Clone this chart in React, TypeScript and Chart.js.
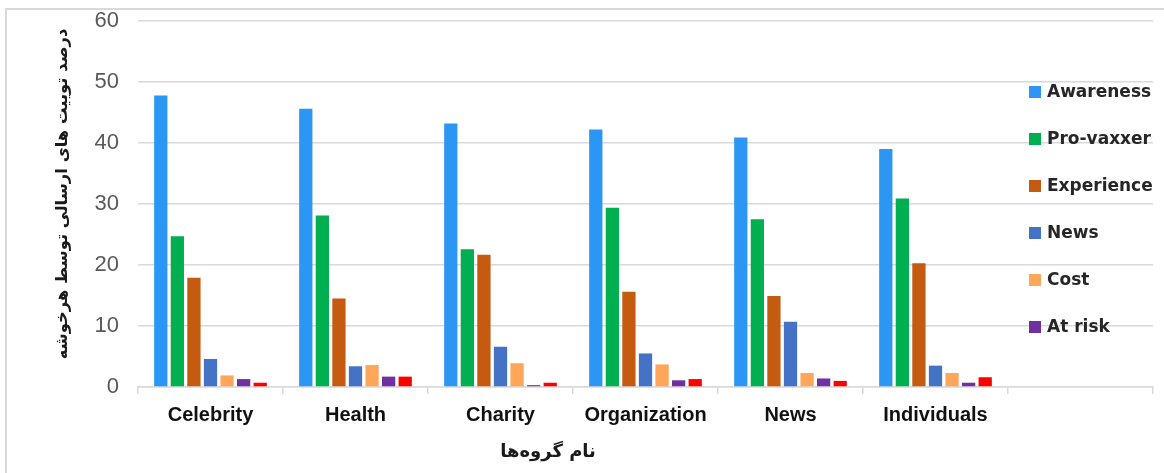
import React, { useEffect, useRef } from "react";
import { Chart, registerables } from "chart.js";

Chart.register(...registerables);

const categories = ["Celebrity", "Health", "Charity", "Organization", "News", "Individuals", ""];

const awareness = [47.8, 45.6, 43.2, 42.2, 40.9, 39.0, null];
const proVaxxer = [24.7, 28.1, 22.6, 29.4, 27.5, 30.9, null];
const experience = [17.9, 14.5, 21.7, 15.6, 14.9, 20.3, null];
const news = [4.6, 3.4, 6.6, 5.5, 10.7, 3.5, null];
const cost = [1.9, 3.6, 3.9, 3.7, 2.3, 2.3, null];
const atRisk = [1.3, 1.7, 0.3, 1.1, 1.4, 0.7, null];
const other = [0.7, 1.7, 0.7, 1.3, 1.0, 1.6, null];

const seriesNames = ["Awareness", "Pro-vaxxer", "Experience", "News", "Cost", "At risk", ""];
const seriesColors = ["#2B96F3", "#00B050", "#C55A11", "#4472C4", "#FFA65B", "#7030A0", "#FF0000"];
const seriesValues = [awareness, proVaxxer, experience, news, cost, atRisk, other];

const yTicks = [0, 10, 20, 30, 40, 50, 60];
const yTitle = "درصد توییت های ارسالی توسط هرخوشه";
const xTitle = "نام گروه‌ها";

const overlayPlugin = {
  id: "overlay",
  afterDraw(chart: any) {
    const ctx = chart.ctx;
    ctx.save();
    // legend
    ctx.textBaseline = "middle";
    ctx.textAlign = "left";
    ctx.font = "bold 17px 'DejaVu Sans', sans-serif";
    let idx = 0;
    seriesNames.forEach((name, i) => {
      if (!name) return;
      const cy = 92 + idx * 47;
      ctx.fillStyle = seriesColors[i];
      ctx.fillRect(1029, cy - 6, 12, 12);
      ctx.fillStyle = "#262626";
      ctx.fillText(name, 1047, cy + 1);
      idx++;
    });
    // y title
    ctx.save();
    ctx.translate(63, 194);
    ctx.rotate(-Math.PI / 2);
    ctx.textAlign = "center";
    ctx.textBaseline = "middle";
    ctx.direction = "rtl";
    ctx.font = "bold 19px 'DejaVu Sans', sans-serif";
    const w = ctx.measureText(yTitle).width;
    const fs = Math.min(19, (19 * 330) / w);
    ctx.font = `bold ${fs.toFixed(1)}px 'DejaVu Sans', sans-serif`;
    ctx.fillStyle = "#1a1a1a";
    ctx.fillText(yTitle, 0, 0);
    ctx.restore();
    // x title
    ctx.textAlign = "center";
    ctx.textBaseline = "middle";
    ctx.direction = "rtl";
    ctx.font = "bold 18px 'DejaVu Sans', sans-serif";
    ctx.fillStyle = "#1a1a1a";
    const xs = chart.scales.x;
    const xc = (xs.getPixelForValue(0) + xs.getPixelForValue(5)) / 2 - 25;
    ctx.fillText(xTitle, xc, 452);
    ctx.restore();
  },
};

export default function App() {
  const ref = useRef<HTMLCanvasElement | null>(null);
  useEffect(() => {
    if (!ref.current) return;
    const chart = new Chart(ref.current, {
      type: "bar",
      data: {
        labels: categories,
        datasets: seriesValues.map((vals, i) => ({
          label: seriesNames[i],
          data: vals as any,
          backgroundColor: seriesColors[i],
          borderWidth: 0,
          categoryPercentage: 0.8,
          barPercentage: 0.8,
        })),
      },
      options: {
        animation: false,
        responsive: false,
        devicePixelRatio: 1,
        layout: { padding: { top: 0, right: 11, left: 0, bottom: 0 } },
        plugins: {
          legend: { display: false },
          tooltip: { enabled: false },
          title: { display: false },
        },
        scales: {
          x: {
            afterFit(scale: any) {
              scale.height = 86;
            },
            grid: {
              offset: true,
              drawOnChartArea: false,
              drawTicks: true,
              tickLength: 7,
              color: "#d9d9d9",
              lineWidth: 1.5,
            },
            border: { display: true, color: "#d9d9d9", width: 1.5 },
            ticks: {
              padding: 9,
              color: "#111111",
              font: { family: "'Liberation Sans', Arial, sans-serif", size: 20, weight: "bold" },
              maxRotation: 0,
              autoSkip: false,
            },
          },
          y: {
            min: 0,
            max: 60,
            afterFit(scale: any) {
              scale.width = 138;
              scale.paddingTop = 21;
            },
            afterBuildTicks(scale: any) {
              scale.ticks = yTicks.map((v) => ({ value: v }));
            },
            grid: { color: "#d9d9d9", lineWidth: 1.5, drawTicks: false },
            border: { display: false },
            ticks: {
              padding: 19,
              color: "#595959",
              font: { family: "'Liberation Sans', Arial, sans-serif", size: 22 },
            },
          },
        },
      },
      plugins: [overlayPlugin],
    });
    return () => chart.destroy();
  }, []);

  return (
    <div style={{ position: "fixed", left: 0, top: 0, width: 1164, height: 473, background: "#fff" }}>
      <div
        style={{
          position: "absolute",
          left: 5,
          top: 8,
          right: 0,
          bottom: 0,
          borderTop: "2px solid #d9d9d9",
          borderLeft: "2px solid #d9d9d9",
        }}
      />
      <canvas ref={ref} width={1164} height={473} style={{ position: "absolute", left: 0, top: 0 }} />
    </div>
  );
}
